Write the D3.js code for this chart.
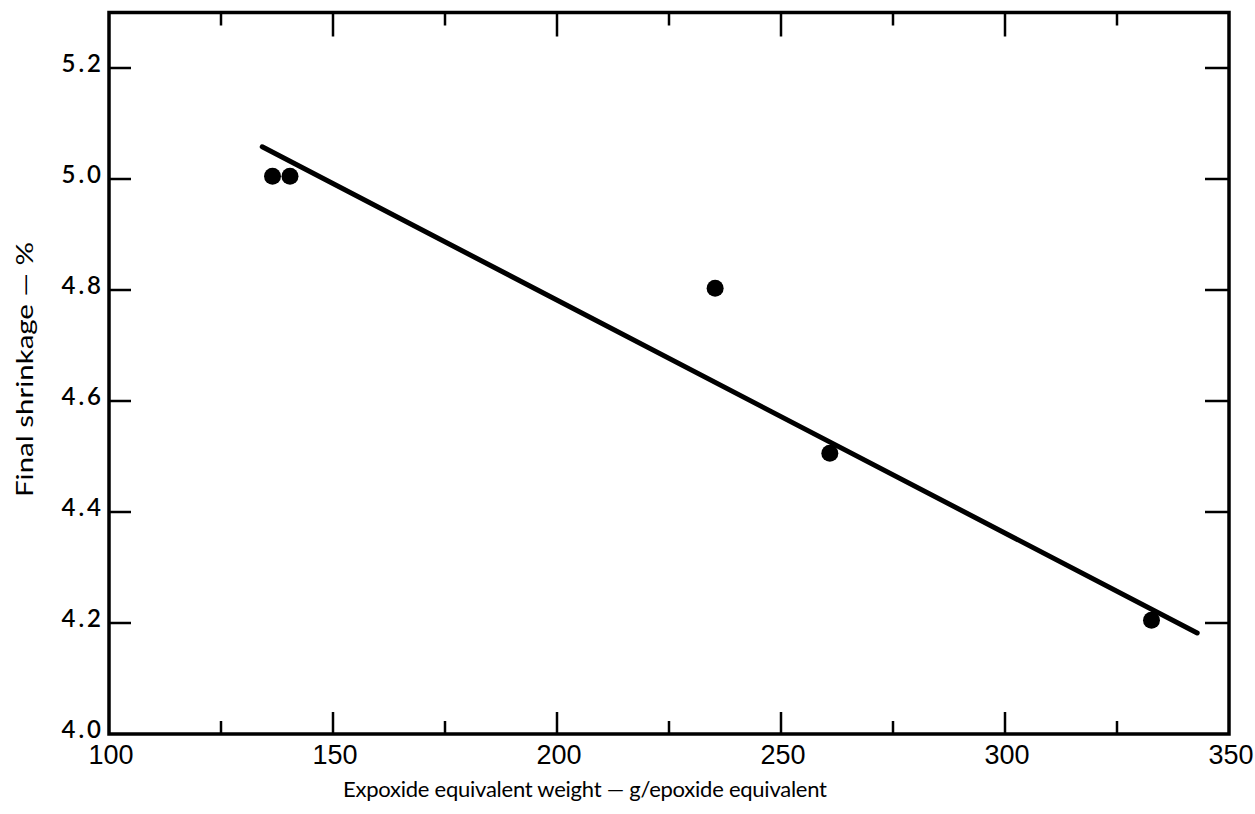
<!DOCTYPE html>
<html><head><meta charset="utf-8">
<script src="https://cdn.jsdelivr.net/npm/d3@7"></script>
<style>body{margin:0;background:#fff}svg{display:block}</style>
</head><body>
<script>
const pointX = [136.5, 140.4, 235.3, 260.9, 332.7];
const pointY = [5.005, 5.005, 4.803, 4.506, 4.205];
const fitX = [134.2, 342.9];
const fitY = [5.058, 4.182];
const xMajorTicks = [100, 150, 200, 250, 300, 350];
const xMinorTicks = [125, 175, 225, 275, 325];
const yTicks = [4.0, 4.2, 4.4, 4.6, 4.8, 5.0, 5.2];
const xTitle = "Expoxide equivalent weight \u2014 g/epoxide equivalent";
const yTitle = "Final shrinkage \u2014 %";

const W = 1255, H = 814;
const svg = d3.select("body").append("svg").attr("width", W).attr("height", H);
const x = d3.scaleLinear().domain([100, 350]).range([109, 1229]);
const y = d3.scaleLinear().domain([4.0, 5.3]).range([734, 12.5]);

const tickG = svg.append("g").attr("stroke", "#000").attr("stroke-width", 2.5);
xMajorTicks.slice(1, -1).forEach(v => {
  tickG.append("line").attr("x1", x(v)).attr("x2", x(v)).attr("y1", y(4.0)).attr("y2", y(4.0) - 22);
  tickG.append("line").attr("x1", x(v)).attr("x2", x(v)).attr("y1", y(5.3)).attr("y2", y(5.3) + 24);
});
xMinorTicks.forEach(v => {
  tickG.append("line").attr("x1", x(v)).attr("x2", x(v)).attr("y1", y(4.0)).attr("y2", y(4.0) - 13);
  tickG.append("line").attr("x1", x(v)).attr("x2", x(v)).attr("y1", y(5.3)).attr("y2", y(5.3) + 13);
});
yTicks.slice(1).forEach(v => {
  tickG.append("line").attr("x1", x(100)).attr("x2", x(100) + 22).attr("y1", y(v)).attr("y2", y(v));
  tickG.append("line").attr("x1", x(350)).attr("x2", x(350) - 24).attr("y1", y(v)).attr("y2", y(v));
});

svg.append("rect").attr("x", x(100)).attr("y", y(5.3)).attr("width", x(350) - x(100)).attr("height", y(4.0) - y(5.3))
  .attr("fill", "none").attr("stroke", "#000").attr("stroke-width", 3.5);

svg.append("g").selectAll("text").data(xMajorTicks).join("text")
  .attr("x", d => x(d) + 2).attr("y", 764)
  .attr("text-anchor", "middle")
  .attr("font-family", "Liberation Sans, Arial, sans-serif")
  .attr("font-size", 27).attr("fill", "#000")
  .text(d => d);

svg.append("g").selectAll("text").data(yTicks).join("text")
  .attr("x", 104).attr("y", d => y(d) + 4)
  .attr("text-anchor", "end")
  .attr("font-family", "Lato, Open Sans, DejaVu Sans, sans-serif")
  .attr("font-size", 24).attr("font-weight", 600).attr("letter-spacing", 3).attr("fill", "#000")
  .text(d => d.toFixed(1));

const line = d3.line().x(d => x(d[0])).y(d => y(d[1]));
svg.append("path").datum(d3.zip(fitX, fitY)).attr("d", line)
  .attr("fill", "none").attr("stroke", "#000").attr("stroke-width", 5).attr("stroke-linecap", "round");

svg.append("g").selectAll("circle").data(d3.zip(pointX, pointY)).join("circle")
  .attr("cx", d => x(d[0])).attr("cy", d => y(d[1])).attr("r", 8.5).attr("fill", "#000");

svg.append("text").attr("x", 343).attr("y", 797)
  .attr("font-family", "Lato, Open Sans, DejaVu Sans, sans-serif").attr("font-size", 22)
  .attr("textLength", 484).attr("lengthAdjust", "spacing").attr("fill", "#000")
  .text(xTitle);
svg.append("text").attr("transform", "translate(33,497) rotate(-90)")
  .attr("font-family", "Lato, Open Sans, DejaVu Sans, sans-serif").attr("font-size", 24)
  .attr("textLength", 255).attr("lengthAdjust", "spacingAndGlyphs").attr("fill", "#000")
  .text(yTitle);
</script>
</body></html>
